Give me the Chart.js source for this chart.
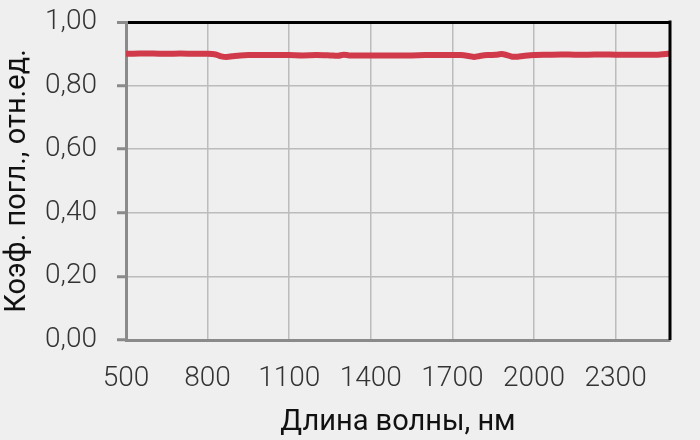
<!DOCTYPE html>
<html>
<head>
<meta charset="utf-8">
<script src="https://cdn.jsdelivr.net/npm/chart.js@4"></script>
<style>
  html, body { margin: 0; padding: 0; background: #efefef; }
  #wrap { width: 700px; height: 440px; }
</style>
</head>
<body>
<div id="wrap"><canvas id="absChart" width="700" height="440"></canvas></div>
<script>
// длина волны, нм
const wavelengths = [500, 550, 600, 650, 700, 750, 800, 830, 850, 870, 890, 920, 950, 1000, 1050, 1100,
  1150, 1200, 1250, 1280, 1300, 1320, 1350, 1400, 1450, 1500, 1550, 1600, 1650, 1700, 1730, 1760,
  1780, 1800, 1830, 1860, 1880, 1900, 1920, 1940, 1960, 2000, 2050, 2100, 2150, 2200, 2250, 2300,
  2350, 2400, 2450, 2500];
// коэффициент поглощения
const absorption = [0.900, 0.901, 0.901, 0.900, 0.901, 0.900, 0.900, 0.898, 0.892, 0.890, 0.892, 0.895,
  0.896, 0.896, 0.896, 0.896, 0.895, 0.896, 0.895, 0.894, 0.897, 0.895, 0.895, 0.895, 0.895, 0.895,
  0.895, 0.896, 0.896, 0.896, 0.896, 0.893, 0.890, 0.893, 0.896, 0.897, 0.899, 0.896, 0.891, 0.891,
  0.893, 0.896, 0.897, 0.898, 0.897, 0.897, 0.898, 0.897, 0.897, 0.897, 0.897, 0.901];
const xTicks = [500, 800, 1100, 1400, 1700, 2000, 2300];
const yTicks = [0, 0.2, 0.4, 0.6, 0.8, 1.0];

const points = wavelengths.map((w, i) => ({ x: w, y: absorption[i] }));

const ctx = document.getElementById('absChart').getContext('2d');
new Chart(ctx, {
  type: 'line',
  data: {
    datasets: [{
      data: points,
      borderColor: '#d03a4b',
      borderWidth: 6,
      pointRadius: 0,
      tension: 0.3,
      fill: false
    }]
  },
  options: {
    responsive: false,
    animation: false,
    layout: { padding: { top: 22, right: 30, left: 0, bottom: 0 } },
    plugins: { legend: { display: false }, tooltip: { enabled: false } },
    scales: {
      x: {
        type: 'linear',
        min: 500,
        max: 2500,
        afterBuildTicks: (axis) => { axis.ticks = xTicks.map(v => ({ value: v })); },
        afterFit: (axis) => { axis.height = 100; axis.paddingLeft = 0; axis.paddingRight = 0; },
        grid: {
          drawTicks: false,
          color: (c) => c.tick && c.tick.value === 500 ? 'rgba(0,0,0,0)' : '#bcbcbc',
          lineWidth: 1.5
        },
        border: { display: true, color: '#8a8a8a', width: 3 },
        ticks: {
          color: '#333',
          padding: 22,
          font: { family: 'Roboto', size: 28, weight: 300 },
          callback: (v) => String(v)
        },
        title: {
          display: true,
          text: 'Длина волны, нм',
          color: '#111',
          padding: { top: 0, bottom: 0 },
          font: { family: 'Roboto', size: 29, weight: 400 }
        }
      },
      y: {
        min: 0,
        max: 1,
        afterBuildTicks: (axis) => { axis.ticks = yTicks.map(v => ({ value: v })); },
        afterFit: (axis) => { axis.width = 126; axis.paddingTop = 0; axis.paddingBottom = 0; },
        grid: {
          color: (c) => c.tick && c.tick.value === 1 ? '#000' : (c.tick && c.tick.value === 0 ? 'rgba(0,0,0,0)' : '#bcbcbc'),
          lineWidth: (c) => c.tick && c.tick.value === 1 ? 3 : 1.5,
          tickColor: '#8a8a8a',
          tickWidth: 3,
          tickLength: 9
        },
        border: { display: true, color: '#8a8a8a', width: 3 },
        ticks: {
          color: '#333',
          padding: 20,
          font: { family: 'Roboto', size: 28, weight: 300 },
          callback: (v) => v.toFixed(2).replace('.', ',')
        },
        title: {
          display: true,
          text: 'Коэф. погл., отн.ед.',
          color: '#111',
          padding: { top: 0, bottom: 0 },
          font: { family: 'Roboto', size: 29, weight: 400 }
        }
      }
    }
  },
  plugins: [{
    id: 'rightBorder',
    afterDraw(chart) {
      const a = chart.chartArea;
      const c = chart.ctx;
      c.save();
      c.strokeStyle = '#000';
      c.lineWidth = 3;
      c.beginPath();
      c.moveTo(a.right, a.top - 1.5);
      c.lineTo(a.right, a.bottom);
      c.stroke();
      c.restore();
    }
  }]
});
</script>
</body>
</html>
